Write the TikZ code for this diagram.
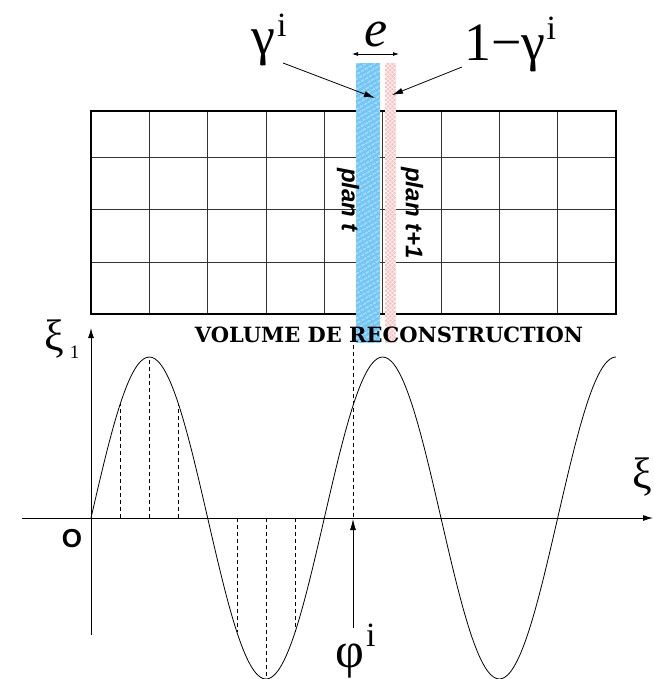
\documentclass[tikz,border=0pt]{standalone}
\usepackage{fontspec}
\setmainfont{Liberation Serif}
\newfontfamily\planfont{Liberation Sans}
\newfontfamily\volfont{DejaVu Serif}
\usetikzlibrary{arrows.meta,patterns.meta}
\definecolor{planblue}{RGB}{115,198,245}
\definecolor{planpink}{RGB}{248,192,192}

\begin{document}
\begin{tikzpicture}[x=1pt,y=-1pt,
  greek/.style={inner sep=0pt,anchor=base west,font=\fontsize{54}{58}\selectfont},
  cell/.style={draw=black!80,line width=0.9pt},
  frame/.style={draw=black,line width=2pt},
  pointer/.style={-{Latex[length=11pt,width=6pt]},line width=0.8pt},
  axis/.style={-{Latex[length=10pt,width=6pt]},line width=1pt},
  guide/.style={dash pattern=on 4pt off 3pt,line width=0.6pt},
  plan/.style={rotate=-90,inner sep=0pt,font=\planfont\bfseries\itshape\fontsize{24}{26}\selectfont}
]
  \useasboundingbox (0,0) rectangle (653,679);

  % volume de reconstruction: 9 x 4 cells
  \foreach \c in {1,...,8}
    \draw[cell] ({91+58.33*\c},111) -- ({91+58.33*\c},314);
  \foreach \r in {157,209,262}
    \draw[cell] (91,\r) -- (616,\r);
  \draw[frame] (91,111) rectangle (616,314);

  % the two planes, thickness e
  \fill[planblue] (356,63) rectangle (380,343);
  \fill[pattern={Lines[angle=30,distance=4pt,line width=0.7pt]},pattern color=white]
    (356,63) rectangle (380,343);
  \fill[planpink] (385,63) rectangle (396,343);
  \fill[pattern={Hatch[angle=45,distance=3pt,line width=0.5pt]},pattern color=white]
    (385,63) rectangle (396,343);

  \node[plan] (plant) at (348,200) {plan t};
  \node[plan] (plantt) at (412,213) {plan t+1};
  \node[inner sep=0pt,anchor=base,font=\volfont\bfseries\fontsize{21}{22}\selectfont]
    (volume) at (389,342) {VOLUME DE RECONSTRUCTION};

  % weights and thickness
  \node[greek] (gam) at (251,55) {γ\hspace{2pt}\raisebox{18pt}{\fontsize{34}{34}\selectfont i}};
  \node[greek] (onegam) at (464,61) {1−γ\hspace{1pt}\raisebox{21pt}{\fontsize{34}{34}\selectfont i}};
  \node[greek,anchor=base,font=\itshape\fontsize{52}{56}\selectfont] (thick) at (376,47) {e};
  \coordinate (eleft) at (352,54);
  \coordinate (eright) at (399,54);
  \draw[{Latex[length=6pt,width=4pt]}-{Latex[length=6pt,width=4pt]},line width=0.8pt]
    (eleft) -- (eright);
  \coordinate (gamfrom) at (283,63);
  \coordinate (gamto) at (375,98);
  \coordinate (onegamfrom) at (462,67);
  \coordinate (onegamto) at (392,95);
  \draw[pointer] (gamfrom) -- (gamto);
  \draw[pointer] (onegamfrom) -- (onegamto);

  % axes
  \coordinate (xstart) at (22,518);
  \coordinate (xend) at (653,518);
  \coordinate (ystart) at (91,635);
  \coordinate (yend) at (91,328);
  \draw[axis] (xstart) -- (xend);
  \draw[axis] (ystart) -- (yend);
  \node[greek,font=\fontsize{44}{48}\selectfont] (xione) at (44,350)
    {ξ\hspace{6pt}\raisebox{-8pt}{\fontsize{19}{19}\selectfont 1}};
  \node[greek,font=\fontsize{44}{48}\selectfont] (xi) at (632,488) {ξ};
  \node[inner sep=0pt,font=\planfont\bfseries\fontsize{26}{26}\selectfont] (orig) at (72,539) {O};

  % sinusoid and sampling
  \draw[line width=0.8pt] plot[domain=0:2.25,samples=181,smooth]
    ({91+233.33*\x},{518-161*sin(360*\x)});
  \foreach \t in {0.125,0.25,0.375,0.625,0.75,0.875}
    \draw[guide] ({91+233.33*\t},518) -- ({91+233.33*\t},{518-161*sin(360*\t)});

  % phase
  \coordinate (phitop) at (353,345);
  \coordinate (phihit) at (353,519);
  \coordinate (phitail) at (353,628);
  \draw[guide] (phitop) -- (phihit);
  \draw[pointer] (phitail) -- (phihit);
  \node[greek,font=\fontsize{50}{54}\selectfont] (phi) at (335,667)
    {φ\hspace{2pt}\raisebox{21pt}{\fontsize{34}{34}\selectfont i}};
\end{tikzpicture}
\end{document}
